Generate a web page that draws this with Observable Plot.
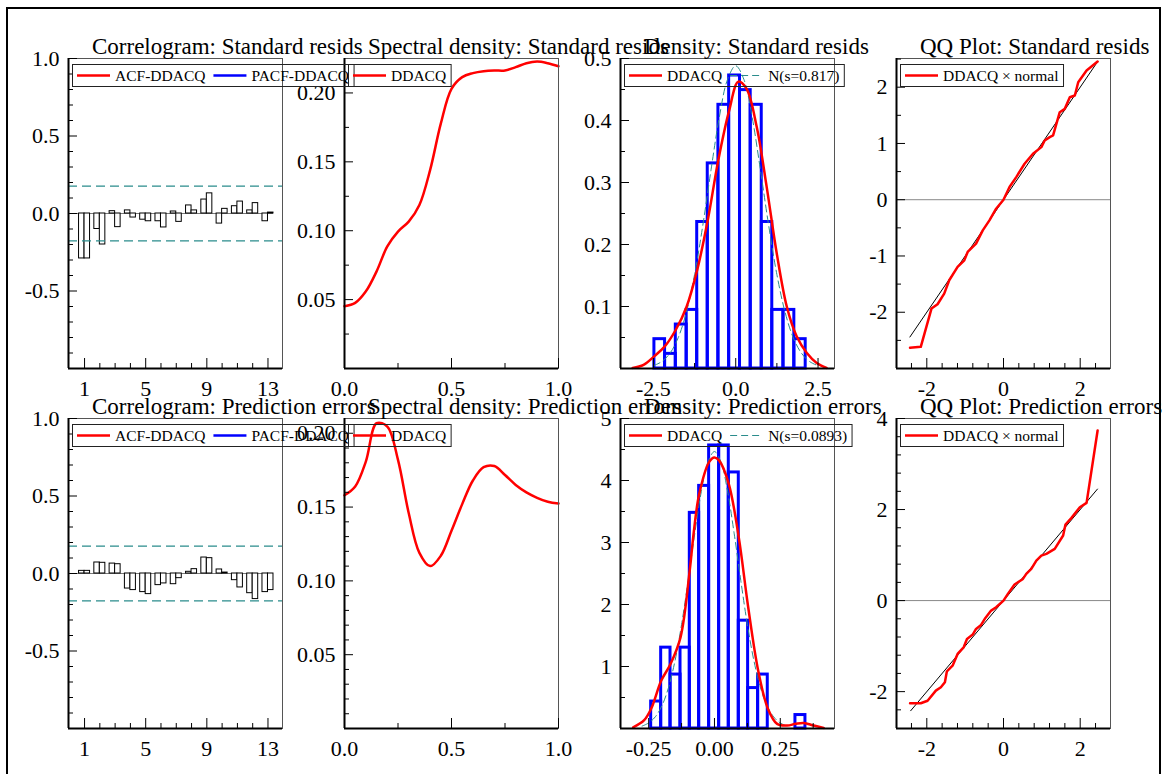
<!DOCTYPE html>
<html><head><meta charset="utf-8">
<script src="https://cdn.jsdelivr.net/npm/d3@7"></script>
<script src="https://cdn.jsdelivr.net/npm/@observablehq/plot@0.6"></script>
<style>
html,body{margin:0;padding:0;background:#fff;overflow:hidden;}
#fig{position:relative;width:1173px;height:774px;overflow:hidden;background:#fff;}
#border{position:absolute;left:6px;top:7px;width:1155px;height:820px;border:2.6px solid #000;box-sizing:border-box;}
</style></head><body><div id="fig"><div id="border"></div></div>
<script>
// ---------- data ----------
const lags = [1,2,3,4,5,6,7,8,9,10,11,12,13];
const acfStd  = [-0.29,-0.10,0.015,0.02,-0.04,-0.05,0.013,0.052,0.09,-0.065,0.047,0.02,-0.05];
const pacfStd = [-0.29,-0.20,-0.088,-0.026,-0.05,-0.09,-0.054,0.02,0.13,0.03,0.077,0.067,0.006];
const acfPred  = [0.017,0.071,0.064,-0.097,-0.12,-0.075,-0.069,0.011,0.103,0.026,-0.043,-0.127,-0.12];
const pacfPred = [0.017,0.069,0.06,-0.107,-0.133,-0.064,-0.03,0.028,0.099,0.006,-0.09,-0.165,-0.107];
const confBand = [0.176,-0.176];

const freq = [0,0.05,0.1,0.15,0.2,0.25,0.3,0.35,0.4,0.45,0.5,0.55,0.6,0.65,0.7,0.75,0.8,0.85,0.9,0.95,1.0];
const specStd  = [0.0452,0.0476,0.056,0.0705,0.0886,0.0994,0.1066,0.1187,0.144,0.1777,0.203,0.2115,0.2144,0.2158,0.2163,0.2163,0.2187,0.2216,0.2228,0.2216,0.2194];
const specPred = [0.158,0.164,0.181,0.2068,0.2045,0.182,0.146,0.119,0.110,0.117,0.134,0.152,0.168,0.177,0.1778,0.1717,0.165,0.160,0.1563,0.1536,0.1524];

const histStdLeft  = [-2.47,-2.146,-1.82,-1.49,-1.17,-0.85,-0.526,-0.2,0.13,0.455,0.79,1.11,1.45,1.78];
const histStdRight = [-2.146,-1.82,-1.49,-1.17,-0.85,-0.526,-0.2,0.13,0.455,0.79,1.11,1.45,1.78,2.125];
const histStdDens  = [0.0473,0.0236,0.0709,0.0945,0.2363,0.3308,0.4253,0.4726,0.449,0.4253,0.2363,0.0945,0.0945,0.0473];
const kdeStdX = [-3.13,-2.8,-2.47,-2.15,-1.82,-1.49,-1.17,-0.85,-0.53,-0.2,0.08,0.33,0.64,0.94,1.245,1.55,1.85,2.16,2.46,2.76];
const kdeStdY = [0.001,0.006,0.02,0.036,0.0625,0.1,0.159,0.239,0.336,0.416,0.4627,0.451,0.389,0.293,0.186,0.1,0.052,0.025,0.009,0.001];
const normStdX = [-2.5,-2.25,-2,-1.75,-1.5,-1.25,-1,-0.75,-0.5,-0.25,0,0.25,0.5,0.75,1,1.25,1.5,1.75,2,2.25,2.5];
const normStdY = [0.0045,0.011,0.0244,0.0493,0.0906,0.1515,0.2309,0.3204,0.4049,0.466,0.4883,0.466,0.4049,0.3204,0.2309,0.1515,0.0906,0.0493,0.0244,0.011,0.0045];

const histPredLeft  = [-0.2405,-0.2025,-0.167,-0.129,-0.0937,-0.0582,-0.0203,0.0177,0.0544,0.0924,0.1278,0.1658,0.3076];
const histPredRight = [-0.2025,-0.167,-0.129,-0.0937,-0.0582,-0.0203,0.0177,0.0544,0.0924,0.1278,0.1658,0.2025,0.3456];
const histPredDens  = [0.435,1.304,0.870,1.304,3.478,3.913,4.565,4.565,4.13,1.739,0.652,0.870,0.217];
const kdePredX = [-0.309,-0.268,-0.2405,-0.2025,-0.167,-0.129,-0.094,-0.078,-0.058,-0.020,0.0,0.018,0.054,0.092,0.128,0.166,0.203,0.238,0.276,0.308,0.339,0.377,0.415];
const kdePredY = [0.02,0.13,0.32,0.77,1.04,1.47,2.55,3.19,3.78,4.30,4.37,4.32,3.95,3.09,1.96,0.935,0.32,0.075,0.048,0.075,0.09,0.048,0.01];
const normPredX = [-0.275,-0.25,-0.225,-0.2,-0.175,-0.15,-0.125,-0.1,-0.075,-0.05,-0.025,0,0.025,0.05,0.075,0.1,0.125,0.15,0.175,0.2,0.225,0.25,0.275];
const normPredY = [0.039,0.089,0.187,0.364,0.655,1.090,1.677,2.386,3.14,3.82,4.295,4.467,4.295,3.82,3.14,2.386,1.677,1.090,0.655,0.364,0.187,0.089,0.039];

const qqStdX = [-2.437,-2.157,-1.878,-1.72,-1.546,-1.415,-1.197,-1.022,-0.934,-0.716,-0.541,-0.367,-0.192,0,0.157,0.332,0.55,0.769,0.987,1.074,1.205,1.293,1.467,1.598,1.729,1.86,1.948,2.166,2.454];
const qqStdY = [-2.633,-2.615,-1.935,-1.858,-1.669,-1.432,-1.195,-1.077,-0.929,-0.781,-0.544,-0.367,-0.16,0,0.225,0.402,0.639,0.817,0.935,1.053,1.112,1.142,1.556,1.615,1.822,1.852,2.089,2.296,2.456];
const qqPredX = [-2.437,-2.157,-1.98,-1.764,-1.633,-1.528,-1.476,-1.328,-1.197,-1.039,-0.952,-0.803,-0.716,-0.585,-0.472,-0.323,-0.192,0,0.114,0.288,0.507,0.594,0.725,0.856,0.987,1.118,1.336,1.555,1.616,1.773,1.991,2.166,2.454];
const qqPredY = [-2.256,-2.256,-2.2,-1.978,-1.905,-1.795,-1.553,-1.429,-1.172,-1.026,-0.842,-0.747,-0.623,-0.535,-0.381,-0.22,-0.147,0,0.147,0.352,0.476,0.586,0.696,0.879,0.989,1.026,1.136,1.429,1.67,1.817,2.051,2.147,3.736];
const qqRefStd  = {x: [-2.44, 2.45], y: [-2.44, 2.45]};
const qqRefPred = {x: [-2.42, 2.45], y: [-2.42, 2.45]};

const titles = [
  ["Correlogram: Standard resids","Spectral density: Standard resids","Density: Standard resids","QQ Plot: Standard resids"],
  ["Correlogram: Prediction errors","Spectral density: Prediction errors","Density: Prediction errors","QQ Plot: Prediction errors"]
];
const sdLabels = ["N(s=0.817)","N(s=0.0893)"];

// ---------- layout ----------
const colLeft = [68, 344, 620, 896];
const rowTop = [58, 418];
const W = 214, H = 310;
const mL = 72, mR = 24, mT = 30, mB = 48;
const FONT = "'Liberation Serif','Times New Roman',serif";
const RED = "#ff0000", BLUE = "#0000ff", TEAL = "#2a8c8c";
const fig = document.getElementById("fig");
const zip = (xs, ys) => xs.map((x, i) => ({x, y: ys[i]}));

function panel(col, row, c) {
  const svg = Plot.plot({
    width: W + mL + mR, height: H + mT + mB,
    marginLeft: mL, marginRight: mR, marginTop: mT, marginBottom: mB,
    x: {domain: c.xDomain}, y: {domain: c.yDomain},
    style: {background: "transparent", overflow: "visible", fontFamily: FONT, fontSize: "22px", color: "black"},
    marks: [
      ...c.marks,
      Plot.frame({stroke: "#555", strokeWidth: 1}),
      Plot.ruleX([c.xDomain[0]], {stroke: "black", strokeWidth: 2}),
      Plot.ruleY([c.yDomain[0]], {stroke: "black", strokeWidth: 2}),
      Plot.axisX({ticks: c.xMinor, tickSize: -5, tickPadding: 0, tickFormat: () => "", label: null}),
      Plot.axisX({ticks: c.xMajor, tickSize: -10, tickPadding: 22, tickFormat: c.xFmt, label: null}),
      Plot.axisY({ticks: c.yMinor, tickSize: -5, tickPadding: 0, tickFormat: () => "", label: null}),
      Plot.axisY({ticks: c.yMajor, tickSize: -9, tickPadding: 18, tickFormat: c.yFmt, label: null})
    ]
  });
  svg.style.position = "absolute";
  svg.style.left = (colLeft[col] - mL) + "px";
  svg.style.top = (rowTop[row] - mT) + "px";
  fig.appendChild(svg);
}

const f1 = d => d.toFixed(1), f2 = d => d.toFixed(2), f0 = d => String(d);

function correlogram(row, acf, pacf) {
  const xDomain = [-0.05, 13.95];
  const bars = lags.flatMap((l, i) => [
    {x1: l - 0.36, x2: l, v: acf[i]},
    {x1: l, x2: l + 0.36, v: pacf[i]}
  ]);
  panel(0, row, {
    xDomain, yDomain: [-1, 1],
    xMajor: [1,5,9,13], xMinor: [2,3,4,6,7,8,10,11,12], xFmt: f0,
    yMajor: [-0.5,0,0.5,1], yMinor: [-0.9,-0.8,-0.7,-0.6,-0.4,-0.3,-0.2,-0.1,0.1,0.2,0.3,0.4,0.6,0.7,0.8,0.9], yFmt: f1,
    marks: [
      Plot.ruleY([0], {x1: xDomain[0], x2: d3.max(bars, b => b.x2), stroke: "#777", strokeWidth: 1}),
      Plot.rect(bars, {x1: "x1", x2: "x2", y1: 0, y2: "v", fill: "white", stroke: "black", strokeWidth: 1}),
      Plot.ruleY(confBand, {stroke: TEAL, strokeWidth: 1.3, strokeDasharray: "9,5"})
    ]
  });
}

function spectral(row, spec, yDomain, yMinor) {
  panel(1, row, {
    xDomain: [0, 1], yDomain,
    xMajor: [0, 0.5, 1], xMinor: [0.25, 0.75], xFmt: f1,
    yMajor: [0.05, 0.1, 0.15, 0.2], yMinor, yFmt: f2,
    marks: [Plot.line(zip(freq, spec), {x: "x", y: "y", stroke: RED, strokeWidth: 2.5, curve: "catmull-rom"})]
  });
}

function density(row, c) {
  panel(2, row, {
    ...c,
    marks: [
      Plot.rect(c.left.map((l, i) => ({x1: l, x2: c.right[i], v: c.dens[i]})), {x1: "x1", x2: "x2", y1: 0, y2: "v", fill: "none", stroke: BLUE, strokeWidth: 3}),
      Plot.line(zip(c.nx, c.ny), {x: "x", y: "y", stroke: TEAL, strokeWidth: 1, strokeDasharray: "7,4", curve: "catmull-rom"}),
      Plot.line(zip(c.kx, c.ky), {x: "x", y: "y", stroke: RED, strokeWidth: 2.5, curve: "catmull-rom"})
    ]
  });
}

function qq(row, c) {
  panel(3, row, {
    ...c,
    xDomain: [-2.79, 2.79], xMajor: [-2, 0, 2], xMinor: [-2.4,-1.6,-1.2,-0.8,-0.4,0.4,0.8,1.2,1.6,2.4], xFmt: f0,
    yFmt: f0,
    marks: [
      Plot.ruleY([0], {stroke: "#888", strokeWidth: 1}),
      Plot.line(zip(c.ref.x, c.ref.y), {x: "x", y: "y", stroke: "black", strokeWidth: 1}),
      Plot.line(zip(c.qx, c.qy), {x: "x", y: "y", stroke: RED, strokeWidth: 2.5})
    ]
  });
}

correlogram(0, acfStd, pacfStd);
correlogram(1, acfPred, pacfPred);
spectral(0, specStd, [0, 0.225], [0.025, 0.075, 0.125, 0.175]);
spectral(1, specPred, [0, 0.21], [0.01,0.02,0.03,0.04,0.06,0.07,0.08,0.09,0.11,0.12,0.13,0.14,0.16,0.17,0.18,0.19]);
density(0, {
  xDomain: [-3.5, 3.0], yDomain: [0, 0.5],
  xMajor: [-2.5, 0, 2.5], xMinor: [-1.25, 1.25], xFmt: f1,
  yMajor: [0.1,0.2,0.3,0.4,0.5], yMinor: [0.05,0.15,0.25,0.35,0.45], yFmt: f1,
  left: histStdLeft, right: histStdRight, dens: histStdDens,
  kx: kdeStdX, ky: kdeStdY, nx: normStdX, ny: normStdY
});
density(1, {
  xDomain: [-0.357, 0.456], yDomain: [0, 5],
  xMajor: [-0.25, 0, 0.25], xMinor: [-0.125, 0.125, 0.375], xFmt: f2,
  yMajor: [1,2,3,4,5], yMinor: [0.5,1.5,2.5,3.5,4.5], yFmt: f0,
  left: histPredLeft, right: histPredRight, dens: histPredDens,
  kx: kdePredX, ky: kdePredY, nx: normPredX, ny: normPredY
});
qq(0, {
  yDomain: [-3.0, 2.51], yMajor: [-2,-1,0,1,2], yMinor: [-2.5,-1.5,-0.5,0.5,1.5,2.5],
  ref: qqRefStd, qx: qqStdX, qy: qqStdY
});
qq(1, {
  yDomain: [-2.81, 4.0], yMajor: [-2,0,2,4], yMinor: [-2.4,-1.6,-1.2,-0.8,-0.4,0.4,0.8,1.2,1.6,2.4,2.8,3.2,3.6],
  ref: qqRefPred, qx: qqPredX, qy: qqPredY
});

// ---------- titles & legends overlay ----------
const ov = d3.select(fig).append("svg")
  .attr("width", 1173).attr("height", 774)
  .style("position", "absolute").style("left", "0px").style("top", "0px")
  .style("overflow", "visible").style("font-family", FONT);

function legend(col, row, items) {
  const L = colLeft[col], T = rowTop[row];
  const g = ov.append("g");
  const box = g.append("rect").attr("x", L + 4.5).attr("y", T + 6.5).attr("height", 22)
    .attr("fill", "none").attr("stroke", "#222").attr("stroke-width", 1);
  let x = L + 9;
  items.forEach(it => {
    g.append("line").attr("x1", x).attr("x2", x + 33).attr("y1", T + 17.5).attr("y2", T + 17.5)
      .attr("stroke", it.color).attr("stroke-width", it.dash ? 1.2 : 2.5)
      .attr("stroke-dasharray", it.dash || null);
    x += 38;
    const t = g.append("text").attr("x", x).attr("y", T + 23).attr("font-size", 15.5).attr("fill", "black").text(it.label);
    x += t.node().getComputedTextLength() + 8;
  });
  box.attr("width", x - 3 - (L + 4.5));
}

for (let r = 0; r < 2; r++) {
  for (let c = 0; c < 4; c++) {
    ov.append("text").attr("x", colLeft[c] + 24).attr("y", rowTop[r] - 4.5)
      .attr("font-size", 23).attr("fill", "black").text(titles[r][c]);
  }
  legend(0, r, [{color: RED, label: "ACF-DDACQ"}, {color: BLUE, label: "PACF-DDACQ"}]);
  legend(1, r, [{color: RED, label: "DDACQ"}]);
  legend(2, r, [{color: RED, label: "DDACQ"}, {color: TEAL, dash: "7,4", label: sdLabels[r]}]);
  legend(3, r, [{color: RED, label: "DDACQ \u00d7 normal"}]);
}
</script></body></html>
